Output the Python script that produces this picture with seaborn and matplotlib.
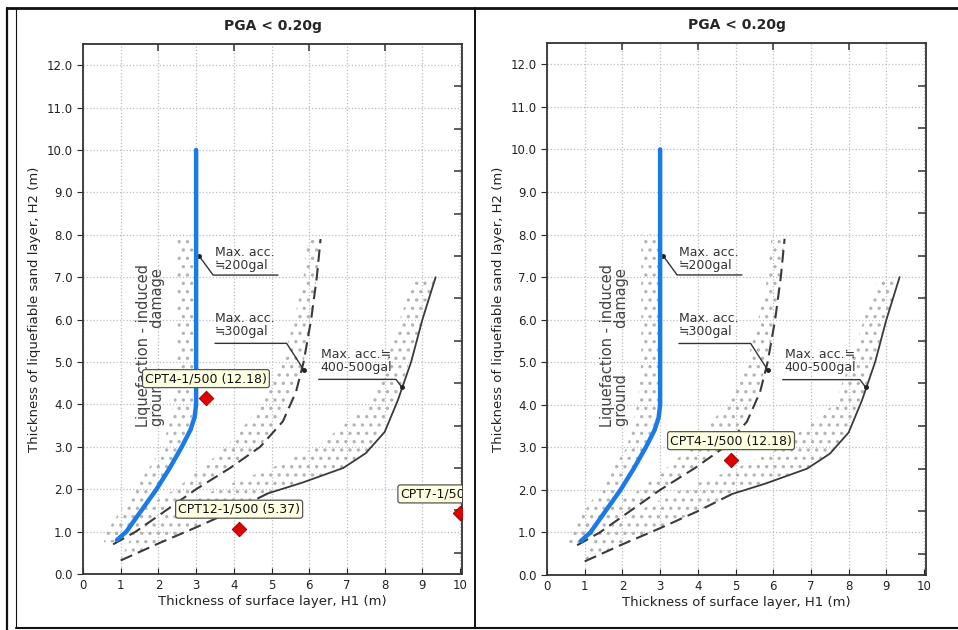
import matplotlib
matplotlib.use('Agg')
import matplotlib.pyplot as plt
import seaborn as sns
import pandas as pd
from matplotlib.lines import Line2D

# ---- data (H1 = surface layer, H2 = liquefiable sand layer) ----
blue_h1 = [0.9, 1.15, 1.55, 1.95, 2.3, 2.62, 2.85, 2.96, 3.0, 3.0]
blue_h2 = [0.8, 1.0, 1.5, 2.0, 2.5, 3.0, 3.4, 3.7, 4.0, 10.0]

acc300_h1 = [0.8, 1.4, 2.2, 3.0, 3.9, 4.7, 5.3, 5.65, 5.85, 6.05, 6.2, 6.3]
acc300_h2 = [0.7, 1.0, 1.5, 2.0, 2.5, 3.0, 3.6, 4.3, 5.0, 6.0, 7.0, 7.9]

acc400_dash_h1 = [1.0, 2.0, 3.0, 4.0, 4.9]
acc400_dash_h2 = [0.32, 0.72, 1.1, 1.5, 1.9]
acc400_solid_h1 = [4.9, 5.8, 6.9, 7.5, 8.0, 8.35, 8.7, 9.0, 9.35]
acc400_solid_h2 = [1.9, 2.15, 2.5, 2.85, 3.35, 4.1, 5.0, 6.0, 7.0]

# stippled transition bands
band200_h2 = [0.75, 1.0, 1.5, 2.0, 2.5, 3.0, 4.0, 5.0, 6.0, 8.0]
band200_left = [0.55, 0.63, 1.0, 1.38, 1.75, 2.12, 2.4, 2.5, 2.5, 2.5]
band200_right = [0.85, 1.15, 1.55, 1.95, 2.3, 2.62, 3.0, 3.0, 3.0, 3.0]

band300_h2 = [0.75, 1.0, 1.5, 2.0, 2.5, 3.0, 4.0, 5.0, 6.0, 7.0, 7.9]
band300_left = [0.6, 0.75, 1.5, 2.45, 3.15, 3.8, 4.75, 5.3, 5.6, 5.85, 5.95]
band300_right = [0.8, 1.4, 2.2, 3.0, 3.9, 4.7, 5.45, 5.85, 6.05, 6.2, 6.3]

band400_h2 = [0.35, 1.0, 1.5, 2.0, 2.5, 3.0, 4.0, 5.0, 6.0, 7.0]
band400_left = [1.0, 1.35, 2.4, 3.55, 5.0, 6.2, 7.6, 8.05, 8.4, 8.8]
band400_right = [1.1, 2.75, 4.0, 5.2, 6.9, 7.7, 8.3, 8.65, 9.0, 9.35]

# CPT points per panel
left_names = ['CPT4-1/500 (12.18)', 'CPT12-1/500 (5.37)', 'CPT7-1/500']
left_h1 = [3.26, 4.14, 10.0]
left_h2 = [4.15, 1.07, 1.43]
right_names = ['CPT4-1/500 (12.18)']
right_h1 = [4.88]
right_h2 = [2.70]

# annotation leaders: (x, y) lists, first point is the dot on the curve
lead200_x = [3.08, 3.45, 5.17]
lead200_y = [7.5, 7.05, 7.05]
lead300_x = [5.85, 5.4, 3.5]
lead300_y = [4.82, 5.44, 5.44]
lead400_x = [8.45, 8.3, 6.25]
lead400_y = [4.41, 4.59, 4.59]

x_ticks = list(range(0, 11))
y_ticks = list(range(0, 13))
y_right_ticks = [v + 0.5 for v in range(0, 12)]
x_top_ticks = [2, 4, 6, 8]
title = 'PGA < 0.20g'


def draw_panel(ax, names, h1, h2, label_offsets):
    ink = '#3a3a3a'
    # stippled bands
    plt.rcParams['hatch.linewidth'] = 1.2
    for hy, xl, xr in [(band200_h2, band200_left, band200_right),
                       (band300_h2, band300_left, band300_right),
                       (band400_h2, band400_left, band400_right)]:
        ax.fill_betweenx(hy, xl, xr, facecolor='none', edgecolor='#b4b4b4',
                         hatch='..', linewidth=0, zorder=1)

    sns.lineplot(x=acc300_h1, y=acc300_h2, sort=False, estimator=None, ax=ax,
                 color=ink, lw=1.5, linestyle=(0, (6, 3)), zorder=3)
    sns.lineplot(x=acc400_dash_h1, y=acc400_dash_h2, sort=False, estimator=None, ax=ax,
                 color=ink, lw=1.5, linestyle=(0, (6, 3)), zorder=3)
    sns.lineplot(x=acc400_solid_h1, y=acc400_solid_h2, sort=False, estimator=None, ax=ax,
                 color=ink, lw=1.3, zorder=3)
    sns.lineplot(x=blue_h1, y=blue_h2, sort=False, estimator=None, ax=ax,
                 color='#1a7be8', lw=3.2, zorder=4)

    # hand-lettered notes of the printed chart
    note = dict(fontsize=9, color='#333333', family=['DejaVu Sans', 'Noto Sans CJK JP'])
    ax.text(3.5, 7.43, 'Max. acc.\n\u2252200gal', va='center', ha='left', linespacing=1.0, **note)
    ax.text(3.5, 5.87, 'Max. acc.\n\u2252300gal', va='center', ha='left', linespacing=1.0, **note)
    ax.text(6.3, 5.02, 'Max. acc.\u2252\n400-500gal', va='center', ha='left', linespacing=1.0, **note)
    for lx, ly in [(lead200_x, lead200_y), (lead300_x, lead300_y), (lead400_x, lead400_y)]:
        ax.plot(lx, ly, color='#333333', lw=1.0, zorder=3)
        ax.plot(lx[0], ly[0], marker='o', ms=2.5, color='#222222', zorder=3)
    ax.text(1.6, 5.4, 'Liquefaction - induced', rotation=90, ha='center', va='center',
            fontsize=10.5, color='#444444')
    ax.text(1.97, 5.35, 'ground          damage', rotation=90, ha='center', va='center',
            fontsize=10.5, color='#444444')

    # CPT markers
    pts = pd.DataFrame({'H1': h1, 'H2': h2, 'name': names})
    sns.scatterplot(data=pts, x='H1', y='H2', marker='D', s=55, color='#e00000',
                    edgecolor='#8a0000', linewidth=0.6, ax=ax, zorder=6, legend=False)
    for (nm, x, y), (dx, dy, ha) in zip(zip(names, h1, h2), label_offsets):
        ax.annotate(nm, xy=(x, y), xytext=(dx, dy), textcoords='offset points',
                    ha=ha, va='center', fontsize=9, color='#111111', zorder=7,
                    annotation_clip=False, clip_on=True,
                    bbox=dict(boxstyle='round,pad=0.2', fc='#ffffe1', ec='#555555', lw=0.9))

    ax.set_xlim(0, 10.05)
    ax.set_ylim(0, 12.5)
    ax.set_xticks(x_ticks)
    ax.set_xticklabels([str(v) for v in x_ticks])
    ax.set_yticks(y_ticks)
    ax.set_yticklabels([f'{v:.1f}' for v in y_ticks])
    ax.set_yticks(y_right_ticks, minor=True)
    ax.set_xticks(x_top_ticks, minor=True)
    ax.xaxis.remove_overlapping_locs = False
    ax.grid(True, which='major', color='#bdbdbd', linestyle=':', linewidth=0.9)
    ax.set_axisbelow(True)
    ax.tick_params(axis='y', which='major', direction='out', length=4, labelsize=8.5,
                   labelcolor='#222222', left=True, right=False)
    ax.tick_params(axis='y', which='minor', direction='in', length=6, width=1.1,
                   left=False, right=True, color='#333333')
    ax.tick_params(axis='x', which='major', direction='in', length=4, labelsize=8.5,
                   labelcolor='#222222', bottom=True, top=False)
    ax.tick_params(axis='x', which='minor', direction='in', length=5, width=1.1,
                   bottom=False, top=True, color='#333333')
    for s in ax.spines.values():
        s.set_color('#333333')
        s.set_linewidth(1.3)
    ax.set_xlabel('Thickness of surface layer, H1 (m)', fontsize=9.5, labelpad=2, color='#222222')
    ax.set_ylabel('Thickness of liquefiable sand layer, H2 (m)', fontsize=9.5, labelpad=4,
                  color='#222222')
    ax.set_title(title, fontsize=10, fontweight='bold', pad=10)


def main():
    sns.set_style('white')
    plt.rcParams['font.family'] = ['DejaVu Sans', 'Noto Sans CJK JP']
    fig = plt.figure(figsize=(9.58, 6.30), dpi=100)
    ax1 = fig.add_axes([83 / 958, 56 / 630, 379 / 958, 530 / 630])
    ax2 = fig.add_axes([547 / 958, 55 / 630, 379 / 958, 532 / 630])

    draw_panel(ax1, left_names, left_h1, left_h2,
               [(0, 14, 'center'), (0, 14, 'center'), (-43, 14, 'left')])
    draw_panel(ax2, right_names, right_h1, right_h2, [(0, 14, 'center')])

    # document frame around the two images
    W, H = 958, 630
    frame = [((7, 958), (8, 8), 2.0), ((7, 7), (8, 630), 1.6), ((16, 16), (9, 628), 0.8),
             ((16, 958), (628, 628), 1.5), ((475, 475), (8, 628), 1.4)]
    for xs, ys, lw in frame:
        fig.add_artist(Line2D([x / W for x in xs], [1 - y / H for y in ys],
                              color='#111111', lw=lw))

    fig.savefig('out.png', dpi=100)


if __name__ == '__main__':
    main()
